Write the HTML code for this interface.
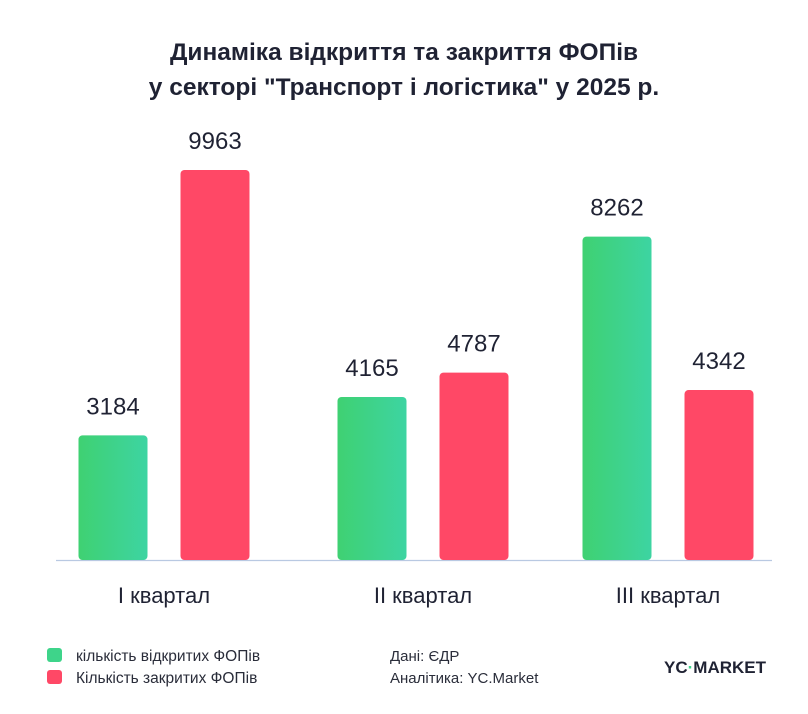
<!DOCTYPE html>
<html><head><meta charset="utf-8"><style>
body{margin:0;background:#fff;width:808px;height:709px;overflow:hidden;font-family:"Liberation Sans","DejaVu Sans",sans-serif;}
</style></head><body>
<svg width="808" height="709" xmlns="http://www.w3.org/2000/svg">
<defs>
<linearGradient id="g" x1="0" x2="1" y1="0" y2="0"><stop offset="0" stop-color="#3fd172"/><stop offset="1" stop-color="#3dd4a2"/></linearGradient>
</defs>
<text x="404" y="60" text-anchor="middle" font-size="24.5" font-weight="bold" fill="#1f2233">Динаміка відкриття та закриття ФОПів</text>
<text x="404" y="95" text-anchor="middle" font-size="24.5" font-weight="bold" fill="#1f2233">у секторі "Транспорт і логістика" у 2025 р.</text>
<line x1="56" y1="560.5" x2="772" y2="560.5" stroke="#b9c9e2" stroke-width="1.2"/>
<g id="bars"></g>
<rect x="47" y="648" width="15" height="14" rx="3" fill="#3ed48a"/>
<text x="76" y="661" font-size="15.5" fill="#2a2d3a">кількість відкритих ФОПів</text>
<rect x="47" y="670" width="15" height="14" rx="3" fill="#ff4866"/>
<text x="76" y="683" font-size="15.5" fill="#2a2d3a">Кількість закритих ФОПів</text>
<text x="390" y="661" font-size="15" fill="#2a2d3a">Дані: ЄДР</text>
<text x="390" y="683" font-size="15" fill="#2a2d3a">Аналітика: YC.Market</text>
<text x="664" y="673" font-size="17" font-weight="bold" fill="#1f2233">YC<tspan fill="#3ed48a">·</tspan>MARKET</text>
</svg>
<script>
const categories = ["I квартал","II квартал","III квартал"];
const opened = [3184,4165,8262];
const closed = [9963,4787,4342];
const baseY = 560, scale = 390/9963;
const yPos = v => baseY - v*scale;
const groupCenters = [164, 423, 668];
const bw = 69, gap = 33;
const g = document.getElementById('bars');
const NS = "http://www.w3.org/2000/svg";
function mk(tag, attrs){const e=document.createElementNS(NS,tag);for(const k in attrs)e.setAttribute(k,attrs[k]);return e;}
categories.forEach((c,i)=>{
  const cx = groupCenters[i];
  [[opened[i],'url(#g)',cx-gap/2-bw,'opened'],[closed[i],'#ff4866',cx+gap/2,'closed']].forEach(([v,fill,x,s])=>{
    const r = mk('rect',{x:x,y:yPos(v),width:bw,height:v*scale,rx:4,fill:fill});
    
    
    g.appendChild(r);
    const t = mk('text',{x:x+bw/2,y:yPos(v)-21,'text-anchor':'middle','font-size':24,fill:'#1f2233'});
    t.textContent = v;
    
    
    g.appendChild(t);
  });
  const l = mk('text',{x:cx,y:603,'text-anchor':'middle','font-size':22,fill:'#1f2233'});
  l.textContent = c;
  
  
  g.appendChild(l);
});
</script>
</body></html>
